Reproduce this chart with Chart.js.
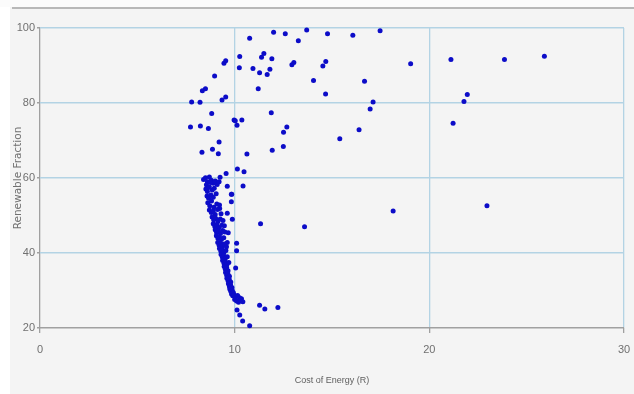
<!DOCTYPE html>
<html>
<head>
<meta charset="utf-8">
<script src="https://cdn.jsdelivr.net/npm/chart.js@4.4.1/dist/chart.umd.min.js"></script>
<style>
  html, body { margin: 0; padding: 0; background: #fff; }
  #chart { display: block; }
</style>
</head>
<body>
<canvas id="chart" width="634" height="394"></canvas>
<script>
// x = cost of energy, y = renewable fraction
const xTicks = [0, 10, 20, 30];
const yTicks = [20, 40, 60, 80, 100];

// scattered points in the upper part
const upperPoints = [
  [10.77,97.3],[12.0,98.9],[12.6,98.5],[13.7,99.5],[13.27,96.6],[14.05,86.0],[10.26,92.4],
  [10.24,89.4],[10.94,89.2],[11.28,88.1],[11.38,92.2],[11.5,93.2],[11.91,91.8],[11.67,87.6],
  [11.81,89.0],[12.94,90.2],[13.04,90.8],[11.21,83.8],[11.88,77.4],[12.51,72.2],[12.68,73.6],
  [11.93,67.4],[12.5,68.4],[10.63,66.4],[10.14,62.4],[10.48,61.7],[10.43,57.9],[10.37,75.5],
  [9.97,75.5],[10.03,75.3],[10.12,74.1],[9.45,90.6],[9.54,91.3],[8.97,87.2],[8.34,83.3],
  [8.5,83.8],[7.79,80.3],[8.22,80.2],[9.35,80.8],[9.54,81.6],[8.82,77.2],[7.73,73.6],
  [8.24,73.9],[8.65,73.2],[9.2,69.6],[8.32,66.9],[8.86,67.7],[9.16,66.5],[9.56,61.2],
  [9.62,57.8],[9.85,55.7]
];

// far right points
const rightPoints = [
  [14.77,98.5],[16.07,98.1],[17.47,99.3],[14.53,89.9],[14.68,91.1],[14.67,82.4],[16.67,85.8],
  [17.11,80.3],[16.96,78.4],[16.39,72.9],[15.4,70.5],[19.04,90.5],[21.11,91.6],[23.86,91.6],
  [25.91,92.5],[21.95,82.3],[21.78,80.4],[21.22,74.6],[13.59,47.0],[18.14,51.2],[22.96,52.6]
];

// loose points near the curve and low cost
const lowerPoints = [
  [11.33,47.8],[11.28,26.1],[11.55,25.1],[12.22,25.5],[10.77,20.6],[10.41,21.9],[10.26,23.5],
  [10.12,24.8],[10.1,42.6],[10.1,40.6],[10.05,36.0],[9.88,49.0],[9.83,55.7],[9.83,53.7],
  [9.62,50.6],[9.23,51.9],[9.67,45.4],[9.62,42.8],[9.47,47.3]
];

// cluster around 60 %
const topCluster = [
  [8.4,59.6],[8.5,60.1],[8.6,59.0],[8.7,60.3],[8.8,59.4],[8.9,58.6],[9.0,59.2],[9.1,58.3],
  [9.2,59.0],[9.25,60.2],[8.55,58.2],[8.65,57.5],[8.75,58.8]
];

// dense band going down to ~27 %
const bandPoints = [
  [8.52,57.1],[8.6,56.4],[8.7,57.6],[8.85,56.8],[8.95,57.3],[8.58,55.2],[8.66,54.6],[8.78,55.5],
  [8.9,54.9],[9.05,55.8],[8.62,53.4],[8.72,52.6],[8.81,53.9],[8.93,52.2],[9.08,53.1],[9.22,52.8],
  [8.7,51.5],[8.8,50.8],[8.9,51.2],[9.0,50.3],[9.12,51.6],[9.3,50.5],[8.84,49.6],[8.92,48.9],
  [9.02,49.3],[9.14,48.4],[9.26,49.1],[9.4,48.7],[8.9,47.8],[8.98,47.1],[9.08,47.6],[9.2,46.8],
  [9.34,47.4],[9.0,46.2],[9.07,45.5],[9.16,45.9],[9.27,45.2],[9.38,46.0],[9.5,45.6],[9.06,44.6],
  [9.14,43.9],[9.22,44.3],[9.32,43.6],[9.44,44.1],[9.13,42.8],[9.2,42.1],[9.28,42.6],[9.37,41.9],
  [9.48,42.4],[9.58,41.7],[9.22,41.2],[9.29,40.5],[9.36,40.9],[9.45,40.2],[9.55,40.7],[9.3,39.6],
  [9.37,38.9],[9.44,39.3],[9.52,38.6],[9.62,39.0],[9.38,38.0],[9.45,37.3],[9.52,37.7],[9.6,36.9],
  [9.7,37.5],[9.46,36.4],[9.52,35.7],[9.59,36.1],[9.66,35.3],[9.53,34.8],[9.59,34.1],[9.65,34.5],
  [9.73,33.8],[9.6,33.3],[9.66,32.6],[9.72,33.0],[9.8,32.3],[9.68,31.8],[9.73,31.1],[9.79,31.5],
  [9.86,30.8],[9.75,30.4],[9.8,29.8],[9.87,30.1],[9.93,29.5],[9.84,29.1],[9.9,28.6],[9.97,28.9],
  [10.05,28.3],[10.15,28.7],[10.25,28.1],[10.35,27.8],[10.0,27.6],[10.1,27.2],[10.2,26.9],
  [10.3,27.4],[10.42,27.0]
];

const allPoints = [].concat(upperPoints, rightPoints, lowerPoints, topCluster, bandPoints)
  .map((p) => ({ x: p[0], y: p[1] }));

const GRID_BLUE = "#b3d3e4";
const AXIS_GREY = "#a0a0a0";
const TICK_FONT = { family: "'Liberation Sans Narrow', 'Liberation Sans', Arial, sans-serif", size: 11 };

// background: light grey page with a grey rule at the top
const backgroundPlugin = {
  id: "bg",
  beforeDraw(chart) {
    const c = chart.ctx;
    c.save();
    c.fillStyle = "#f4f4f4";
    c.fillRect(0, 0, chart.width, chart.height);
    c.fillStyle = "#fbfbfb";
    c.fillRect(0, 0, chart.width, 7);
    c.fillStyle = "#ffffff";
    c.fillRect(0, 7, 10, chart.height);
    c.fillStyle = "#b8b8b8";
    c.fillRect(12, 7, chart.width - 12, 2);
    c.restore();
  },
};

new Chart(document.getElementById("chart"), {
  type: "scatter",
  data: {
    datasets: [
      {
        label: "Renewable Fraction",
        data: allPoints,
        backgroundColor: "#0c0cc8",
        borderColor: "#0c0cc8",
        pointRadius: 2.5,
        pointHoverRadius: 2.5,
        borderWidth: 0,
        clip: false,
      },
    ],
  },
  options: {
    responsive: false,
    animation: false,
    layout: { padding: { left: 0, top: 28, right: 10, bottom: 0 } },
    plugins: {
      legend: { display: false },
      tooltip: { enabled: false },
    },
    scales: {
      x: {
        type: "linear",
        min: xTicks[0],
        max: xTicks[xTicks.length - 1],
        afterBuildTicks: (s) => { s.ticks = xTicks.map((v) => ({ value: v })); },
        afterFit: (s) => { s.height = 66; s.paddingLeft = 0; s.paddingRight = 0; },
        ticks: { color: "#707070", font: TICK_FONT, padding: 10, maxRotation: 0 },
        grid: {
          color: (c) => (c.tick && c.tick.value === 0 ? AXIS_GREY : GRID_BLUE),
          tickColor: AXIS_GREY,
          lineWidth: 1.3,
          tickLength: 5,
        },
        border: { display: false },
        title: {
          display: true,
          text: "Cost of Energy (R)",
          color: "#606060",
          font: { family: "'Liberation Sans Narrow', Arial, sans-serif", size: 9 },
          padding: { top: 0, bottom: 8 },
        },
      },
      y: {
        type: "linear",
        min: yTicks[0],
        max: yTicks[yTicks.length - 1],
        afterBuildTicks: (s) => { s.ticks = yTicks.map((v) => ({ value: v })); },
        afterFit: (s) => { s.width = 40; s.paddingTop = 0; s.paddingBottom = 0; },
        ticks: { color: "#707070", font: TICK_FONT, padding: 2 },
        grid: {
          color: (c) => (c.tick && c.tick.value === 20 ? AXIS_GREY : GRID_BLUE),
          tickColor: AXIS_GREY,
          lineWidth: 1.5,
          tickLength: 3,
        },
        border: { display: false },
        title: {
          display: true,
          text: "Renewable Fraction",
          color: "#707070",
          font: { family: "'DejaVu Sans', sans-serif", size: 10.5 },
          padding: { top: 12, bottom: 0 },
        },
      },
    },
  },
  plugins: [backgroundPlugin],
});
</script>
</body>
</html>
